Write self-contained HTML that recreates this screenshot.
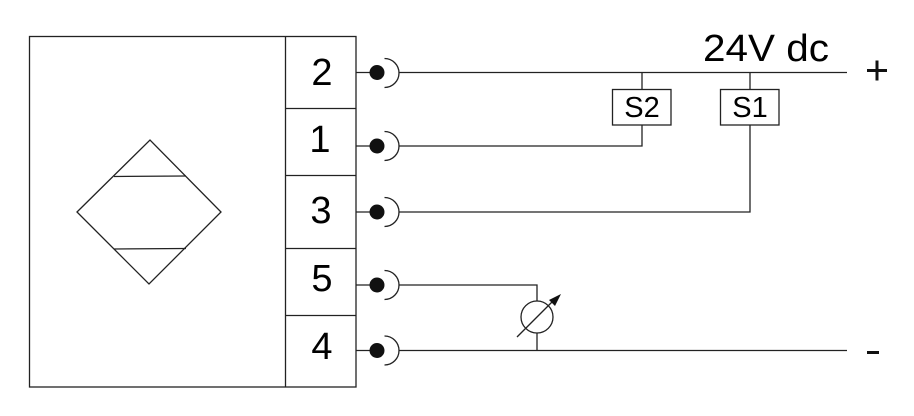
<!DOCTYPE html>
<html>
<head>
<meta charset="utf-8">
<style>
  html, body { margin: 0; padding: 0; background: #fff; }
  svg { display: block; }
  text { font-family: "Liberation Sans", Arial, sans-serif; fill: #000; }
</style>
</head>
<body>
<svg width="914" height="416" viewBox="0 0 914 416" xmlns="http://www.w3.org/2000/svg">
  <g stroke="#222" stroke-width="1.3" fill="none">
    <!-- main box -->
    <rect x="29.5" y="36.5" width="326.5" height="350.5"/>
    <line x1="285.5" y1="36.5" x2="285.5" y2="387"/>
    <line x1="285.5" y1="108.5" x2="356" y2="108.5"/>
    <line x1="285.5" y1="175.5" x2="356" y2="175.5"/>
    <line x1="285.5" y1="248.5" x2="356" y2="248.5"/>
    <line x1="285.5" y1="315.5" x2="356" y2="315.5"/>

    <!-- diamond -->
    <polygon points="77,212 150,140 221,212 149,284"/>
    <line x1="114" y1="176.5" x2="186" y2="176"/>
    <line x1="114" y1="249" x2="186" y2="248.5"/>

    <!-- terminal stubs and arcs -->
    <line x1="356" y1="72.5" x2="377" y2="72.5"/>
    <line x1="356" y1="146" x2="377" y2="146"/>
    <line x1="356" y1="212" x2="377" y2="212"/>
    <line x1="356" y1="285" x2="377" y2="285"/>
    <line x1="356" y1="350.5" x2="377" y2="350.5"/>

    <path d="M384.5,58.5 A14.5,14.5 0 0 1 384.5,87.5"/>
    <path d="M384.5,131.5 A14.5,14.5 0 0 1 384.5,160.5"/>
    <path d="M384.5,197.5 A14.5,14.5 0 0 1 384.5,226.5"/>
    <path d="M384.5,270.5 A14.5,14.5 0 0 1 384.5,299.5"/>
    <path d="M384.5,336 A14.5,14.5 0 0 1 384.5,365"/>

    <!-- wires -->
    <line x1="399" y1="72.5" x2="847" y2="72.5"/>
    <polyline points="399,146 642,146 642,125"/>
    <polyline points="399,212 750,212 750,125"/>
    <line x1="642" y1="72.5" x2="642" y2="89"/>
    <line x1="750" y1="72.5" x2="750" y2="89"/>
    <rect x="612.5" y="89.5" width="58.5" height="35.5"/>
    <rect x="720.5" y="89.5" width="58.5" height="35.5"/>

    <polyline points="399,285 537,285 537,301"/>
    <circle cx="537" cy="317" r="16"/>
    <line x1="537" y1="333" x2="537" y2="350.5"/>
    <line x1="399" y1="350.5" x2="847" y2="350.5"/>
    <line x1="517" y1="337" x2="553" y2="301"/>
  </g>
  <!-- arrowhead of meter -->
  <polygon points="561,294 549,300 555,306" fill="#111"/>

  <!-- terminal dots -->
  <g fill="#111">
    <circle cx="377" cy="72.5" r="7.5"/>
    <circle cx="377" cy="146" r="7.5"/>
    <circle cx="377" cy="212" r="7.5"/>
    <circle cx="377" cy="285" r="7.5"/>
    <circle cx="377" cy="350.5" r="7.5"/>
  </g>

  <!-- terminal numbers -->
  <g font-size="38" text-anchor="middle">
    <text x="322" y="85">2</text>
    <text x="320" y="152">1</text>
    <text x="321" y="223">3</text>
    <text x="322" y="291">5</text>
    <text x="322" y="359">4</text>
  </g>

  <!-- switch labels -->
  <g font-size="29" text-anchor="middle">
    <text x="642" y="117">S2</text>
    <text x="750" y="117">S1</text>
  </g>

  <!-- supply label -->
  <text x="703" y="61" font-size="38" textLength="126" lengthAdjust="spacingAndGlyphs">24V dc</text>

  <!-- plus / minus -->
  <rect x="867" y="69" width="20" height="3" fill="#111"/>
  <rect x="875.5" y="60.5" width="3" height="20" fill="#111"/>
  <rect x="867" y="351" width="12" height="3" fill="#111"/>
</svg>
</body>
</html>
